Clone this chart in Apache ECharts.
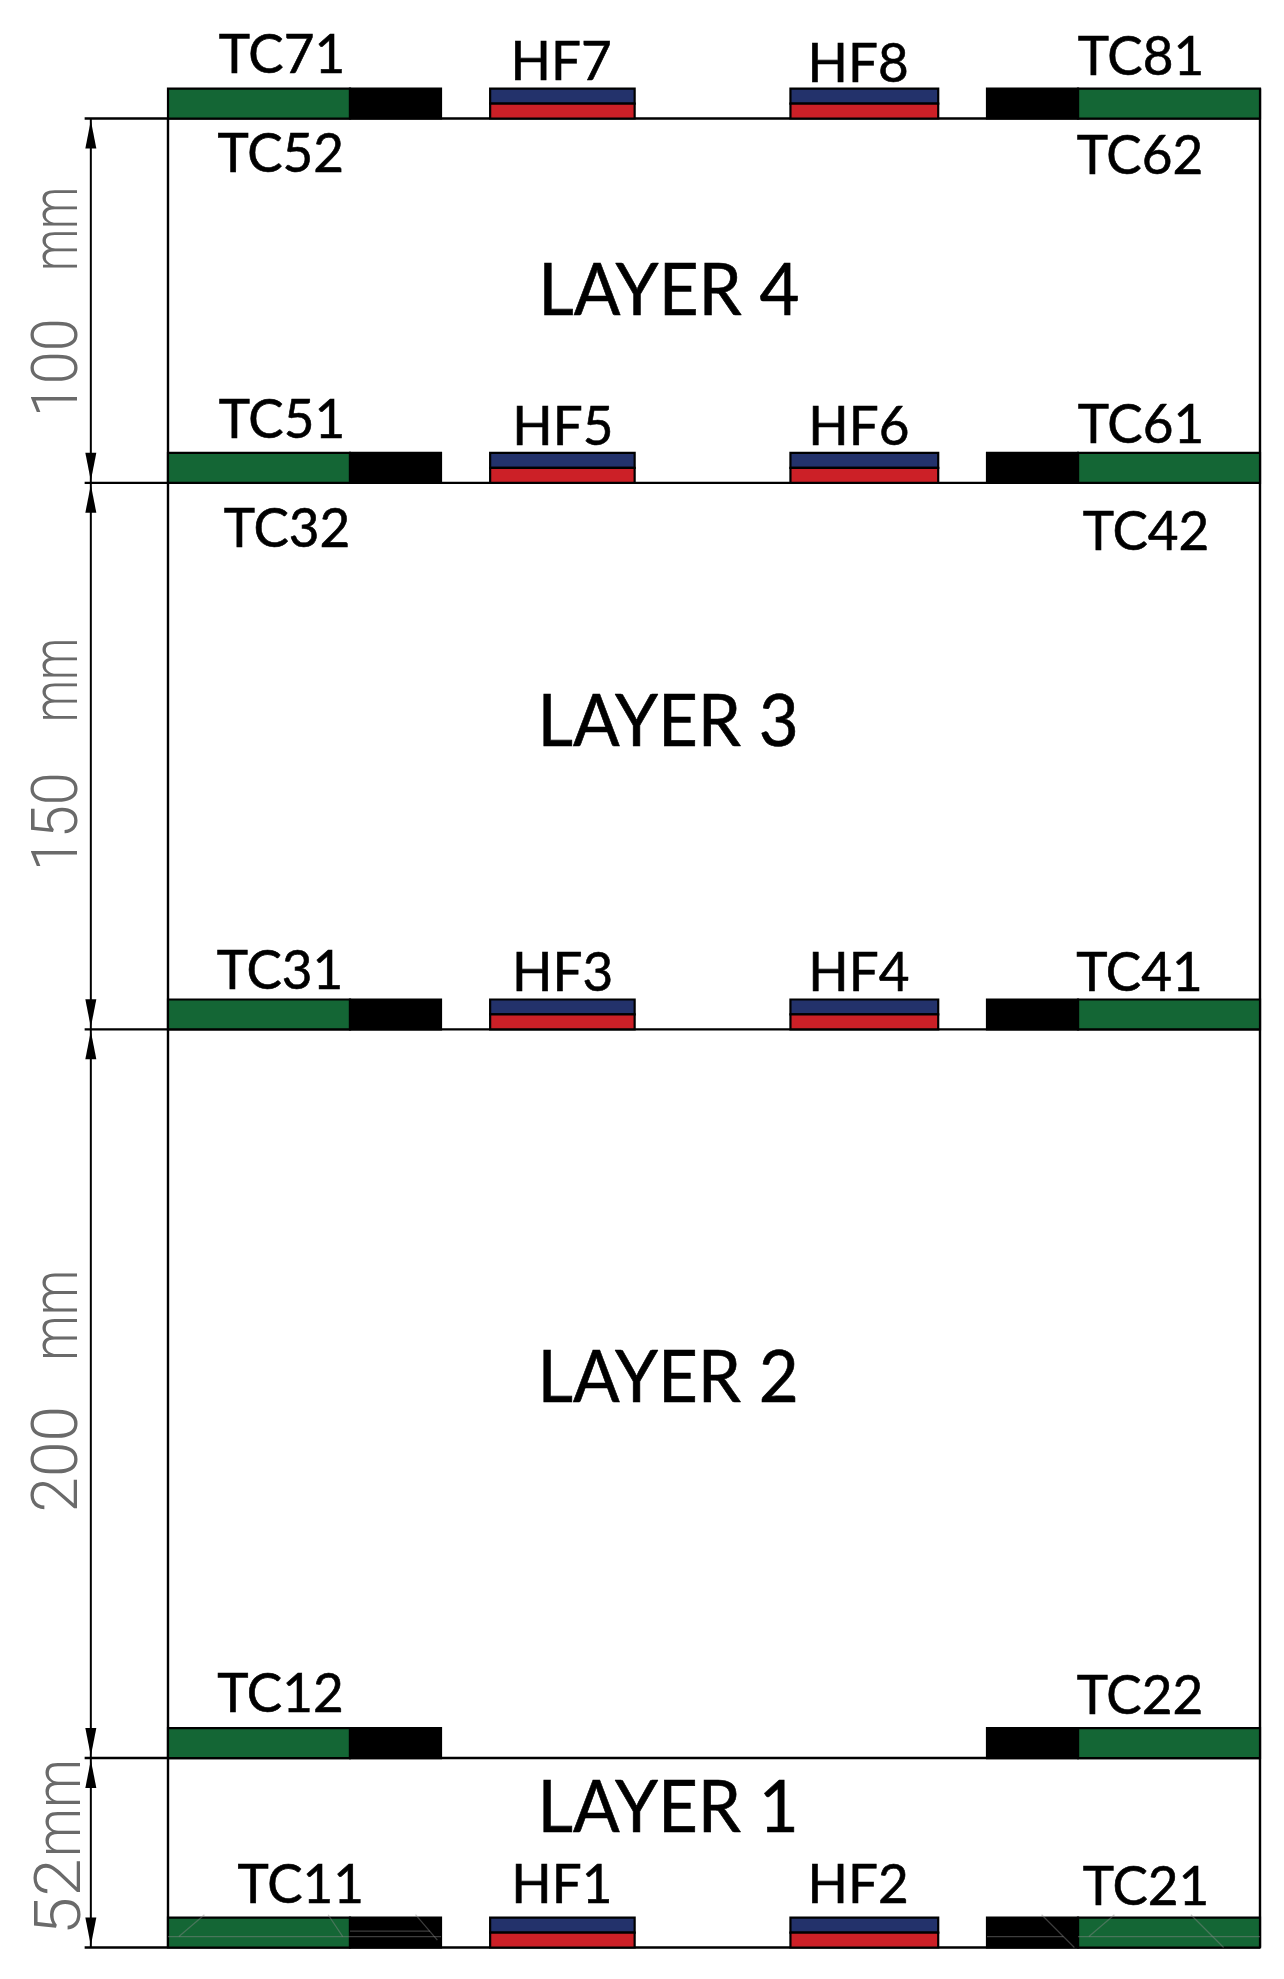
<!DOCTYPE html>
<html><head><meta charset="utf-8">
<style>html,body{margin:0;padding:0;background:#fff}#c{width:1284px;height:1979px}</style>
<script src="https://cdn.jsdelivr.net/npm/echarts@6/dist/echarts.min.js"></script>
</head><body><div id="c"></div>
<script>
// All lengths are millimetres on the drawing (x: tank width, y: height above the floor)
const widthMm = 300;
const planes = [0, 52, 252, 402, 502];
const tcPlanes = [0, 52, 252, 402, 502];
const hfPlanes = [0, 252, 402, 502];
const barHeight = 8.2;
const tcSensors = [[0, 50], [250, 300]];
const tcCables = [[50, 75], [225, 250]];
const hfSensors = [[88.5, 128.2], [171, 211.6]];

const sensorNames = ['TC71','HF7','HF8','TC81','TC52','TC62','TC51','HF5','HF6','TC61','TC32','TC42','TC31','HF3','HF4','TC41','TC12','TC22','TC11','HF1','HF2','TC21'];
const sensorX = [31.3,108,189.6,267.3,31,267,31.3,108.5,189.8,267.3,32.7,268.7,30.8,108.4,189.8,266.9,30.9,267,36.5,108.2,189.6,268.7];
const sensorY = [514.4,512.5,511.9,513.9,487.2,486.7,414.2,412.3,412.3,412.8,384.3,383.5,263,262.4,262.4,262.4,64.5,64,12.1,12.1,12.1,11.5];

const layerNames = ['LAYER 4','LAYER 3','LAYER 2','LAYER 1'];
const layerX = [137.6,137.4,137.4,137.4];
const layerY = [447.8,329.4,149.3,31.4];

const spans = [[402,502],[252,402],[52,252],[0,52]];
const dimX = -21.2;
const extX = -22.9;
const dimValues = ['100','150','200','52'];
const dimValueY = [433.6,309,134,13.9];
const dimUnitY = [471.7,347.9,173.5,38.3];
const dimBaseX = [-23.4,-23.4,-23.4,-22.6];
const dimStretch = [0.93,0.93,1.0,1.08];

const scratches = [
 [0,3,50,3],[3,3,10,9],[44,9,48,3],[50,3,75,3],[50,4.5,72,4.5],[68,9,74,2],
 [250,3,300,3],[253,3,260,9],[281,9,290,0],[225,3,246,3],[240,9,249,0]
];

const chart = echarts.init(document.getElementById('c'));
const BLACK = '#000';

function rectSeries(name, data, fill) {
  return {
    type:'custom', name, coordinateSystem:'cartesian2d', silent:true, z:3,
    data,
    renderItem(p, api){
      const a = api.coord([api.value(0), api.value(2)+api.value(3)]);
      const b = api.coord([api.value(1), api.value(2)]);
      return {type:'rect', shape:{x:a[0],y:a[1],width:b[0]-a[0],height:b[1]-a[1]},
        style:{fill, stroke:BLACK, lineWidth:2.2}};
    }
  };
}
const tcData=[], cableData=[], navyData=[], redData=[];
tcPlanes.forEach(y=>{
  tcSensors.forEach(s=>tcData.push([s[0],s[1],y,barHeight]));
  tcCables.forEach(s=>cableData.push([s[0],s[1],y,barHeight]));
});
hfPlanes.forEach(y=>hfSensors.forEach(s=>{
  navyData.push([s[0],s[1],y+barHeight/2,barHeight/2]);
  redData.push([s[0],s[1],y,barHeight/2]);
}));

function textSeries(name, names, xs, ys, size){
  return {
    type:'custom', name, coordinateSystem:'cartesian2d', silent:true, z:6,
    data:names.map((n,i)=>[xs[i],ys[i],n]),
    renderItem(p, api){
      const c = api.coord([api.value(0), api.value(1)]);
      return {type:'text', x:c[0], y:c[1], scaleX:1, scaleY:1.03, style:{
        text:names[p.dataIndex], textAlign:'center', textVerticalAlign:'middle',
        y:-size*0.36+1.5, fontFamily:'Lato', fontSize:size, fill:'#000', stroke:'#000', lineWidth:0.6
      }};
    }
  };
}
const option = {
  animation:false, backgroundColor:'#fff',
  grid:{left:168, right:24, top:118.5, bottom:31.5},
  xAxis:{type:'value', min:0, max:widthMm, show:false},
  yAxis:{type:'value', min:0, max:planes[planes.length-1], show:false},
  series:[
    { // layer planes with extension lines, tank walls
      type:'custom', name:'Frame', coordinateSystem:'cartesian2d', silent:true, z:2,
      data:planes.map(y=>[y]),
      renderItem(p, api){
        const y=api.value(0), a=api.coord([extX,y]), b=api.coord([widthMm,y]);
        const kids=[{type:'line',shape:{x1:a[0],y1:a[1],x2:b[0],y2:b[1]},style:{stroke:BLACK,lineWidth:2.4}}];
        if(p.dataIndex===0){
          const lt=api.coord([0,502]), lb=api.coord([0,0]), rt=api.coord([widthMm,502+barHeight]), rb=api.coord([widthMm,0]);
          kids.push({type:'line',shape:{x1:lt[0],y1:lt[1],x2:lb[0],y2:lb[1]},style:{stroke:BLACK,lineWidth:2.4}});
          kids.push({type:'line',shape:{x1:rt[0],y1:rt[1],x2:rb[0],y2:rb[1]},style:{stroke:BLACK,lineWidth:2.4}});
        }
        return {type:'group',children:kids};
      }
    },
    { // dimension lines with arrows
      type:'custom', name:'Dimensions', coordinateSystem:'cartesian2d', silent:true, z:2,
      data:spans,
      renderItem(p, api){
        const lo=api.value(0), hi=api.value(1);
        const L=api.coord([dimX,lo]), H=api.coord([dimX,hi]);
        const len=28, w=5.5, gap=2;
        const tri=(tip,dir)=>({type:'polygon',shape:{points:[[tip[0],tip[1]+dir*gap],[tip[0]+w,tip[1]+dir*(gap+len)],[tip[0]-w,tip[1]+dir*(gap+len)]]},style:{fill:BLACK}});
        return {type:'group',children:[
          {type:'line',shape:{x1:L[0],y1:L[1],x2:H[0],y2:H[1]},style:{stroke:BLACK,lineWidth:2}},
          tri(H,1),tri(L,-1)
        ]};
      }
    },
    rectSeries('TC sensors', tcData, '#146635'),
    rectSeries('TC cables', cableData, '#000000'),
    rectSeries('HF upper', navyData, '#23326b'),
    rectSeries('HF lower', redData, '#cc2027'),
    {
      type:'custom', name:'Scratches', coordinateSystem:'cartesian2d', silent:true, z:4,
      data:scratches,
      renderItem(p, api){
        const a=api.coord([api.value(0),api.value(1)]), b=api.coord([api.value(2),api.value(3)]);
        return {type:'line',shape:{x1:a[0],y1:a[1],x2:b[0],y2:b[1]},style:{stroke:'#8a8a8a',opacity:.45,lineWidth:1.2}};
      }
    },
    textSeries('Sensor labels', sensorNames, sensorX, sensorY, 53),
    textSeries('Layer labels', layerNames, layerX, layerY, 69),
    {
      type:'custom', name:'Dimension values', coordinateSystem:'cartesian2d', silent:true, z:6,
      data:dimValues.map((v,i)=>[dimBaseX[i],dimValueY[i],dimUnitY[i]]),
      renderItem(p, api){
        const i=p.dataIndex, v=api.coord([api.value(0),api.value(1)]), u=api.coord([api.value(0),api.value(2)]);
        const mk=(c,text,sx)=>({type:'text',x:c[0],y:c[1],rotation:Math.PI/2,scaleX:sx,scaleY:1,style:{
          text,textAlign:'center',textVerticalAlign:'middle',y:-22,fontFamily:'Roboto',fontWeight:300,fontSize:64,fill:'#6a6a6a'}});
        return {type:'group',children:[mk(v,dimValues[i],dimStretch[i]),mk(u,'mm',dimStretch[i]*0.8)]};
      }
    }
  ]
};
chart.setOption(option);
</script></body></html>
